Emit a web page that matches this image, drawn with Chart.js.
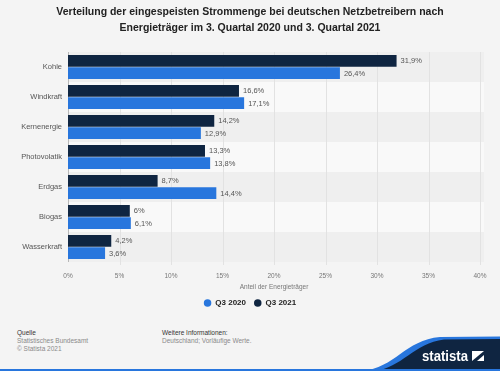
<!DOCTYPE html>
<html><head><meta charset="utf-8">
<script src="https://cdn.jsdelivr.net/npm/chart.js@4/dist/chart.umd.min.js"></script>
<style>
html,body{margin:0;padding:0;background:#f4f4f4;width:500px;height:371px;overflow:hidden;font-family:"Liberation Sans",Arial,sans-serif;}
#title{position:absolute;left:0;top:3px;width:500px;text-align:center;font-weight:bold;font-size:10.5px;line-height:16px;color:#222;}
#wrap{position:absolute;left:0;top:0;width:500px;height:320px;}
.ft{position:absolute;font-size:6.5px;line-height:8px;color:#8a8a8a;}
.ft b{font-weight:normal;color:#333;}
#logo{position:absolute;left:0;top:0;}
</style></head><body>
<div id="wrap"><canvas id="c" width="500" height="320"></canvas></div>
<div id="title">Verteilung der eingespeisten Strommenge bei deutschen Netzbetreibern nach<br>Energieträger im 3. Quartal 2020 und 3. Quartal 2021</div>
<div class="ft" style="left:17px;top:329px;"><b>Quelle</b><br>Statistisches Bundesamt<br>© Statista 2021</div>
<div class="ft" style="left:162px;top:329px;"><b>Weitere Informationen:</b><br>Deutschland; Vorläufige Werte.</div>
<svg id="logo" width="500" height="371" viewBox="0 0 500 371">
<path d="M362,371 C395,368 405,340 440,337 L500,336.5 L500,371 Z" fill="#2876dd"/>
<path d="M374,371 C402,368 414,343 444,339.5 L500,339 L500,371 Z" fill="#0f2541"/>
<rect x="0" y="369" width="500" height="2" fill="#2876dd"/>
<text x="422" y="361" fill="#fff" font-family="Liberation Sans,Arial" font-weight="bold" font-size="13.8" textLength="46" lengthAdjust="spacingAndGlyphs">statista</text>
<path d="M472,351 L484,351 L484,361 L472,361 Z" fill="#fff"/>
<path d="M472,361 L484,351 L484,355 L477,361 Z" fill="#0f2541"/>
</svg>
<script>
const categories = ['Kohle','Windkraft','Kernenergie','Photovolatik','Erdgas','Biogas','Wasserkraft'];
const q3_2021 = [31.9,16.6,14.2,13.3,8.7,6,4.2];
const q3_2020 = [26.4,17.1,12.9,13.8,14.4,6.1,3.6];
const xTicks = [0,5,10,15,20,25,30,35,40];
const fmt = v => v.toLocaleString('de-DE') + '%';

const bandPlugin = {
  id:'bands',
  beforeDatasetsDraw(chart){
    const {ctx, chartArea:a} = chart;
    const n = categories.length, h = (a.bottom - a.top)/n;
    ctx.save();
    for(let i=0;i<n;i++){
      ctx.fillStyle = i%2===0 ? '#efefef' : '#f9f9f9';
      ctx.fillRect(a.left, a.top + i*h, a.right - a.left + 4, h);
    }
    const x = chart.scales.x;
    ctx.strokeStyle = '#e2e2e2'; ctx.lineWidth = 1;
    xTicks.forEach(t=>{ if(t===0) return; const px=Math.round(x.getPixelForValue(t))+0.5; ctx.beginPath(); ctx.moveTo(px,a.top); ctx.lineTo(px,a.bottom+3); ctx.stroke();});
    ctx.strokeStyle = '#b8b8b8';
    const p0 = Math.round(x.getPixelForValue(0))+0.5;
    ctx.beginPath(); ctx.moveTo(p0,a.top); ctx.lineTo(p0,a.bottom); ctx.stroke();
    ctx.restore();
  }
};
const labelPlugin = {
  id:'vlabels',
  afterDatasetsDraw(chart){
    const ctx = chart.ctx;
    ctx.save();
    ctx.font = '7.5px "Liberation Sans", Arial, sans-serif';
    ctx.fillStyle = '#555';
    ctx.textBaseline = 'middle';
    chart.data.datasets.forEach((ds,di)=>{
      chart.getDatasetMeta(di).data.forEach((bar,i)=>{
        ctx.fillText(fmt(ds.data[i]), bar.x + 4, bar.y + 0.5);
      });
    });
    ctx.restore();
  }
};

new Chart(document.getElementById('c'), {
  type:'bar',
  data:{
    labels: categories,
    datasets:[
      {label:'Q3 2021', data:q3_2021, backgroundColor:'#0f2541', categoryPercentage:0.82, barPercentage:0.95},
      {label:'Q3 2020', data:q3_2020, backgroundColor:'#2876dd', categoryPercentage:0.82, barPercentage:0.95}
    ]
  },
  options:{
    indexAxis:'y',
    responsive:false,
    animation:false,
    layout:{padding:{top:52,right:20,bottom:3,left:20}},
    scales:{
      x:{
        min:0,max:40,
        afterBuildTicks(s){ s.ticks = xTicks.map(v=>({value:v})); },
        grid:{display:false, drawTicks:false},
        border:{display:false},
        ticks:{padding:10, color:'#777', font:{size:6.5, family:'"Liberation Sans", Arial, sans-serif'}, callback:v=>v+'%', maxRotation:0},
        title:{display:true, text:'Anteil der Energieträger', color:'#777', padding:{top:2,bottom:0}, font:{size:6.5, family:'"Liberation Sans", Arial, sans-serif'}},
        afterFit(s){ s.height = 29; }
      },
      y:{
        grid:{display:false, drawTicks:false},
        border:{display:false},
        ticks:{padding:6, color:'#555', font:{size:7.5, family:'"Liberation Sans", Arial, sans-serif'}},
        afterFit(s){ s.width = 48; }
      }
    },
    plugins:{
      legend:{
        position:'bottom', reverse:true,
        labels:{usePointStyle:true, pointStyle:'circle', pointStyleWidth:7.5, boxWidth:7.5, boxHeight:5.3, padding:8, color:'#222',
          font:{size:8, weight:'bold', family:'"Liberation Sans", Arial, sans-serif'}}
      },
      tooltip:{enabled:false}
    }
  },
  plugins:[bandPlugin,labelPlugin]
});
</script>
</body></html>
